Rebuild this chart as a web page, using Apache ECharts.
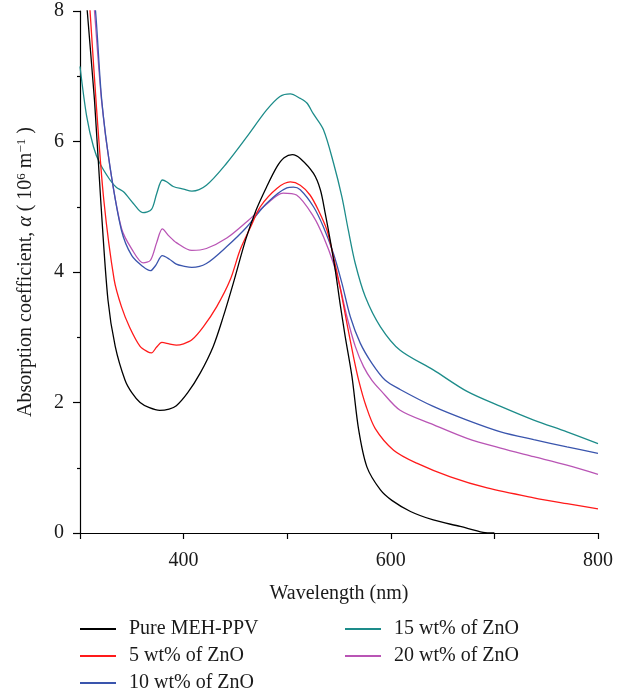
<!DOCTYPE html>
<html>
<head>
<meta charset="utf-8">
<script src="https://cdn.jsdelivr.net/npm/echarts@6/dist/echarts.min.js"></script>
<style>
html,body{margin:0;padding:0;background:#fff;}
#chart{width:629px;height:696px;}
</style>
</head>
<body>
<div id="chart"></div>
<script>
// ---- data ----
const seriesNames = ['Pure MEH-PPV', '5 wt% of ZnO', '10 wt% of ZnO', '15 wt% of ZnO', '20 wt% of ZnO'];

const pureWl  = [301, 307, 314, 320, 327, 334, 343.5, 350, 358, 367, 377, 386, 393, 404, 416, 428.6, 438, 448, 460, 470, 480, 490, 497, 505, 512.6, 525.4, 532, 536.7, 541.5, 546.4, 551, 556, 562.5, 569, 577, 590, 601, 619, 641, 667, 689, 700];
const pureVal = [9.4, 8.0, 6.63, 5.1, 3.57, 2.86, 2.34, 2.15, 2.0, 1.92, 1.88, 1.9, 1.95, 2.15, 2.45, 2.86, 3.3, 3.83, 4.5, 4.95, 5.3, 5.61, 5.75, 5.8, 5.74, 5.51, 5.26, 4.9, 4.49, 4.03, 3.52, 3.01, 2.4, 1.58, 1.01, 0.66, 0.5, 0.33, 0.2, 0.1, 0.01, 0.0];

const zno5Wl  = [302, 309.7, 316, 323, 333, 340, 348, 358, 365, 369, 374, 379, 386, 393, 400, 408, 419, 432, 445, 454.6, 465, 474, 490, 503, 512.6, 522, 530, 538.4, 544.7, 551, 557.7, 564, 569, 576, 585, 602.7, 625, 657.5, 693, 738, 770, 800];
const zno5Val = [9.8, 8.0, 6.5, 5.1, 3.88, 3.47, 3.15, 2.86, 2.78, 2.76, 2.85, 2.92, 2.9, 2.88, 2.9, 2.96, 3.16, 3.47, 3.88, 4.34, 4.7, 5.0, 5.28, 5.38, 5.33, 5.18, 4.95, 4.64, 4.23, 3.77, 3.21, 2.7, 2.34, 1.95, 1.6, 1.27, 1.07, 0.86, 0.69, 0.54, 0.45, 0.37];

const zno10Wl  = [303, 315, 321, 329, 340, 350, 361, 368, 373, 379.5, 386, 393, 400, 408, 422, 441.7, 461, 480, 499.7, 506, 512.6, 525.4, 535, 544.7, 552.8, 561, 570.5, 581.8, 594.7, 609, 641, 673.6, 706, 738, 770, 800];
const zno10Val = [10.0, 8.0, 6.63, 5.61, 4.64, 4.25, 4.08, 4.02, 4.1, 4.25, 4.2, 4.12, 4.09, 4.07, 4.13, 4.39, 4.69, 5.05, 5.29, 5.3, 5.26, 5.0, 4.69, 4.28, 3.83, 3.31, 2.91, 2.6, 2.34, 2.2, 1.94, 1.73, 1.55, 1.43, 1.32, 1.22];

const zno15Wl  = [300, 306.5, 313, 319, 329, 335, 342, 351.5, 360.6, 369, 374, 379.5, 384, 390, 400, 408, 422, 441.7, 461, 480, 493, 503, 512.6, 519, 525, 535, 544.7, 552.8, 559, 565.7, 575.4, 590, 609, 641, 673.6, 706, 738, 770, 800];
const zno15Val = [7.15, 6.38, 5.92, 5.67, 5.41, 5.3, 5.23, 5.05, 4.91, 4.96, 5.2, 5.41, 5.38, 5.31, 5.27, 5.24, 5.33, 5.67, 6.07, 6.48, 6.69, 6.73, 6.66, 6.59, 6.43, 6.18, 5.67, 5.15, 4.64, 4.13, 3.62, 3.16, 2.8, 2.5, 2.17, 1.94, 1.73, 1.55, 1.37];

const zno20Wl  = [302, 314, 321, 329, 340, 350, 361, 368, 374, 379.5, 386, 393, 408, 422, 441.7, 461, 480, 496, 509, 525.4, 535, 544.7, 551, 557.7, 565.7, 573.7, 581.8, 590, 609, 641, 673.6, 706, 738, 770, 800];
const zno20Val = [10.4, 8.0, 6.6, 5.6, 4.67, 4.35, 4.14, 4.18, 4.45, 4.66, 4.55, 4.45, 4.33, 4.36, 4.52, 4.77, 5.04, 5.21, 5.18, 4.85, 4.54, 4.13, 3.77, 3.31, 2.86, 2.55, 2.34, 2.19, 1.88, 1.66, 1.45, 1.3, 1.17, 1.04, 0.9];

const xTicks = [400, 600, 800];
const yTicks = [0, 2, 4, 6, 8];

const colors = ['#000000', '#ff1a1a', '#3a55ad', '#1d8c8a', '#b955b5'];

// ---- chart ----
const FONT = '"Liberation Serif", "DejaVu Serif", serif';
const pairs = (xs, ys) => xs.map((x, i) => [x, ys[i]]);
const allData = [
  pairs(pureWl, pureVal),
  pairs(zno5Wl, zno5Val),
  pairs(zno10Wl, zno10Val),
  pairs(zno15Wl, zno15Val),
  pairs(zno20Wl, zno20Val)
];

const chart = echarts.init(document.getElementById('chart'), null, {renderer: 'canvas'});

const legendBase = {
  orient: 'vertical',
  icon: 'rect',
  itemWidth: 36,
  itemHeight: 2,
  itemGap: 7,
  padding: 0,
  height: 90,
  selectedMode: false,
  textStyle: {fontFamily: FONT, fontSize: 20, color: '#1a1a1a', lineHeight: 20, padding: [0, 0, 0, 8]}
};

chart.setOption({
  animation: false,
  backgroundColor: '#ffffff',
  color: colors,
  grid: {left: 80, right: 31, top: 11, bottom: 163, containLabel: false},
  legend: [
    Object.assign({}, legendBase, {left: 80, top: 619, data: seriesNames.slice(0, 3)}),
    Object.assign({}, legendBase, {left: 345, top: 619, data: seriesNames.slice(3)})
  ],
  xAxis: {
    type: 'value',
    min: 300, max: 800, interval: 100,
    name: 'Wavelength (nm)',
    nameLocation: 'middle',
    nameGap: 51,
    nameTextStyle: {fontFamily: FONT, fontSize: 20, color: '#1a1a1a'},
    axisLine: {show: true, onZero: false, lineStyle: {color: '#000', width: 1.2}},
    axisTick: {show: true, length: 6, lineStyle: {color: '#000', width: 1.2}},
    axisLabel: {
      fontFamily: FONT, fontSize: 20, color: '#1a1a1a', margin: 18,
      formatter: v => (xTicks.indexOf(v) >= 0 ? String(v) : '')
    },
    splitLine: {show: false}
  },
  yAxis: {
    type: 'value',
    min: 0, max: 8, interval: 2,
    name: 'Absorption coefficient, {i|α} ( 10{sup|6} m{sup|−1} )',
    nameLocation: 'middle',
    nameGap: 44,
    nameRotate: 90,
    nameTextStyle: {
      fontFamily: FONT, fontSize: 20, color: '#1a1a1a',
      rich: {
        i: {fontFamily: FONT, fontSize: 20, fontStyle: 'italic', color: '#1a1a1a'},
        sup: {fontFamily: FONT, fontSize: 13, color: '#1a1a1a', verticalAlign: 'top', padding: [0, 0, 8, 0]}
      }
    },
    axisLine: {show: true, onZero: false, lineStyle: {color: '#000', width: 1.2}},
    axisTick: {show: true, length: 7, lineStyle: {color: '#000', width: 1.2}},
    minorTick: {show: true, splitNumber: 2, length: 3, lineStyle: {color: '#000', width: 1.2}},
    axisLabel: {
      fontFamily: FONT, fontSize: 20, color: '#1a1a1a', margin: 16,
      formatter: v => (yTicks.indexOf(v) >= 0 ? String(v) : '')
    },
    splitLine: {show: false},
    minorSplitLine: {show: false}
  },
  series: allData.map((d, i) => ({
    name: seriesNames[i],
    type: 'line',
    data: d,
    showSymbol: false,
    symbol: 'none',
    smooth: 0.3,
    clip: true,
    lineStyle: {width: 1.3, color: colors[i]},
    itemStyle: {color: colors[i]},
    z: 10 - i
  }))
});
</script>
</body>
</html>
